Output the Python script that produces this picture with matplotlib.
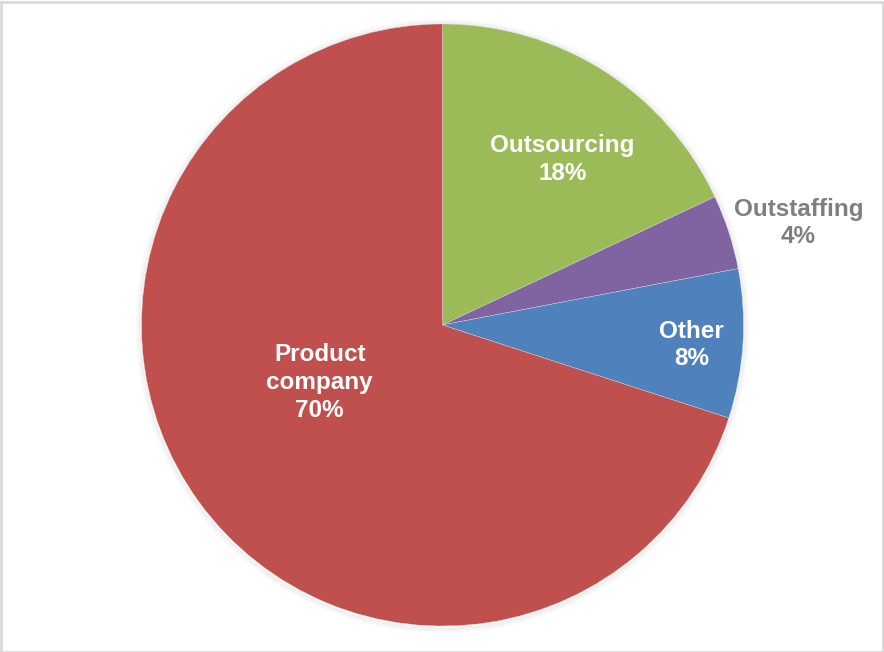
import numpy as np
import matplotlib
matplotlib.use("Agg")
import matplotlib.pyplot as plt
from matplotlib.patches import Circle, Rectangle

# data, clockwise from 12 o'clock
names = ["Outsourcing", "Outstaffing", "Other", "Product\ncompany"]
shares = [18, 4, 8, 70]
colors = ["#9BBB59", "#8064A2", "#4F81BD", "#C0504D"]
text_colors = ["white", "#7F7F7F", "white", "white"]
# label radius (fraction of pie radius) and angle nudge in degrees
lab_r = [0.68, 1.23, 0.83, 0.45]
lab_dang = [-3.5, -2, -1, -11]

W, H = 884, 652
fig = plt.figure(figsize=(W / 100, H / 100), dpi=100)
ax = fig.add_axes([0, 0, 1, 1])

cx, cy, R = 442.5, H - 325, 301

# soft shadow around the pie
for k in range(6):
    ax.add_patch(Circle((cx, cy - 1), R + 1 + k, facecolor="none",
                        edgecolor="#000000", alpha=0.035 * (6 - k) / 6, lw=1.5, zorder=0))

wedges, _ = ax.pie(shares, colors=colors, startangle=90, counterclock=False,
                   center=(cx, cy), radius=R, frame=True,
                   wedgeprops=dict(edgecolor="#E0E0E0", linewidth=0.25))
ax.set_xlim(0, W)
ax.set_ylim(0, H)
ax.set_aspect("equal")
ax.axis("off")

for w, nm, s, tc, rr, da in zip(wedges, names, shares, text_colors, lab_r, lab_dang):
    ang = np.deg2rad((w.theta1 + w.theta2) / 2 + da)
    x = cx + rr * R * np.cos(ang)
    y = cy + rr * R * np.sin(ang)
    ax.text(x, y, f"{nm}\n{s}%", ha="center", va="center", color=tc,
            fontsize=17.5, fontweight="bold", family=["Liberation Sans", "DejaVu Sans"],
            linespacing=1.27)

# light frame round the chart
fig.patches.append(Rectangle((0.5 / W, 0.5 / H), 1 - 2 / W, 1 - 2 / H, transform=fig.transFigure,
                             fill=False, edgecolor="#D9D9D9", lw=2))

fig.savefig("out.png", dpi=100)
